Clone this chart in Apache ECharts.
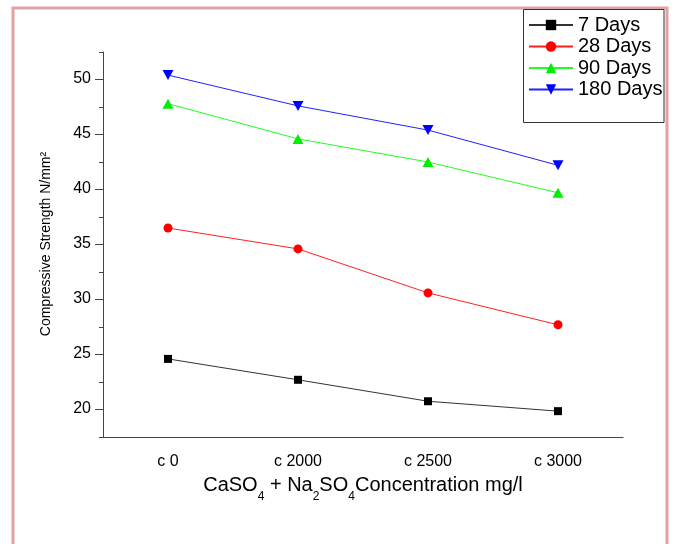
<!DOCTYPE html>
<html>
<head>
<meta charset="utf-8">
<script src="https://cdn.jsdelivr.net/npm/echarts/dist/echarts.min.js"></script>
<style>
html,body{margin:0;padding:0;background:#fff;}
#chart{width:677px;height:544px;}
</style>
</head>
<body>
<div id="chart"></div>
<script>
const categories = ['c 0', 'c 2000', 'c 2500', 'c 3000'];
const seriesNames = ['7 Days', '28 Days', '90 Days', '180 Days'];
const days7 = [24.6, 22.7, 20.75, 19.85];
const days28 = [36.5, 34.6, 30.6, 27.7];
const days90 = [47.8, 44.6, 42.5, 39.7];
const days180 = [50.4, 47.6, 45.4, 42.2];
const yTickValues = [20, 25, 30, 35, 40, 45, 50];

const FONT = 'Liberation Sans, Arial, sans-serif';
const chart = echarts.init(document.getElementById('chart'));

const option = {
  backgroundColor: '#fff',
  animation: false,
  graphic: [
    { type: 'rect', z: 0, shape: { x: 13, y: 8, width: 654, height: 560 },
      style: { fill: 'none', stroke: '#e0a2a2', lineWidth: 3 } },
    { type: 'rect', z: 1, shape: { x: 523.5, y: 9.5, width: 140.5, height: 113 },
      style: { fill: '#fff', stroke: '#333', lineWidth: 1 } }
  ],
  legend: {
    orient: 'vertical',
    left: 528,
    top: 15,
    padding: 0,
    itemGap: 1.5,
    itemWidth: 44,
    itemHeight: 13,
    z: 10,
    data: seriesNames,
    textStyle: { fontFamily: FONT, fontSize: 20, lineHeight: 20, color: '#000' }
  },
  grid: [
    { left: 103, top: 52, width: 520, height: 385 },
    { left: 103, top: 79, width: 520, height: 330 }
  ],
  xAxis: [
    {
      gridIndex: 0, type: 'category', position: 'bottom', data: categories, boundaryGap: true,
      axisLine: { lineStyle: { color: '#444', width: 1 } },
      axisTick: { alignWithLabel: true, length: 8, lineStyle: { color: '#444' } },
      axisLabel: { fontFamily: FONT, fontSize: 16, color: '#000', margin: 17 },
      name: '{n|CaSO}{s|4}{n| + Na}{s|2}{n|SO}{s|4}{n|Concentration mg/l}',
      nameLocation: 'middle',
      nameGap: 30,
      nameTextStyle: {
        rich: {
          n: { fontFamily: FONT, fontSize: 20, color: '#000', lineHeight: 36 },
          s: { fontFamily: FONT, fontSize: 12, color: '#000', lineHeight: 12, verticalAlign: 'bottom' }
        }
      }
    },
    {
      gridIndex: 0, type: 'category', position: 'bottom', data: categories, boundaryGap: true,
      axisLine: { show: false },
      axisTick: { alignWithLabel: false, length: 4, lineStyle: { color: '#444' } },
      axisLabel: { show: false }
    },
    {
      gridIndex: 1, type: 'category', data: categories, show: false
    }
  ],
  yAxis: [
    {
      gridIndex: 0, type: 'value', position: 'left', min: 17.5, max: 52.5, interval: 2.5,
      axisLine: { show: true, lineStyle: { color: '#444', width: 1 } },
      axisTick: { show: true, length: 4, lineStyle: { color: '#444' } },
      axisLabel: { show: false },
      splitLine: { show: false }
    },
    {
      gridIndex: 1, type: 'value', position: 'left',
      min: yTickValues[0], max: yTickValues[yTickValues.length - 1], interval: 5,
      axisLine: { show: false },
      axisTick: { show: true, length: 8, lineStyle: { color: '#444' } },
      axisLabel: { fontFamily: FONT, fontSize: 16, color: '#000', margin: 12 },
      splitLine: { show: false },
      name: 'Compressive Strength N/mm²',
      nameLocation: 'middle',
      nameGap: 50,
      nameTextStyle: { fontFamily: FONT, fontSize: 14, color: '#000' }
    }
  ],
  series: [
    { name: seriesNames[0], type: 'line', xAxisIndex: 0, yAxisIndex: 0, data: days7,
      symbol: 'rect', symbolSize: 8, color: '#000',
      lineStyle: { color: '#333', width: 1 }, itemStyle: { color: '#000' } },
    { name: seriesNames[1], type: 'line', xAxisIndex: 0, yAxisIndex: 0, data: days28,
      symbol: 'circle', symbolSize: 9, color: '#ff0000',
      lineStyle: { color: '#ff2020', width: 1 }, itemStyle: { color: '#ff0000' } },
    { name: seriesNames[2], type: 'line', xAxisIndex: 0, yAxisIndex: 0, data: days90,
      symbol: 'triangle', symbolSize: [11, 10], color: '#00ee00',
      lineStyle: { color: '#20ff20', width: 1 }, itemStyle: { color: '#00ee00' } },
    { name: seriesNames[3], type: 'line', xAxisIndex: 0, yAxisIndex: 0, data: days180,
      symbol: 'triangle', symbolRotate: 180, symbolSize: [11, 10], color: '#0000ff',
      lineStyle: { color: '#2020ff', width: 1 }, itemStyle: { color: '#0000ff' } }
  ]
};
chart.setOption(option);
</script>
</body>
</html>
